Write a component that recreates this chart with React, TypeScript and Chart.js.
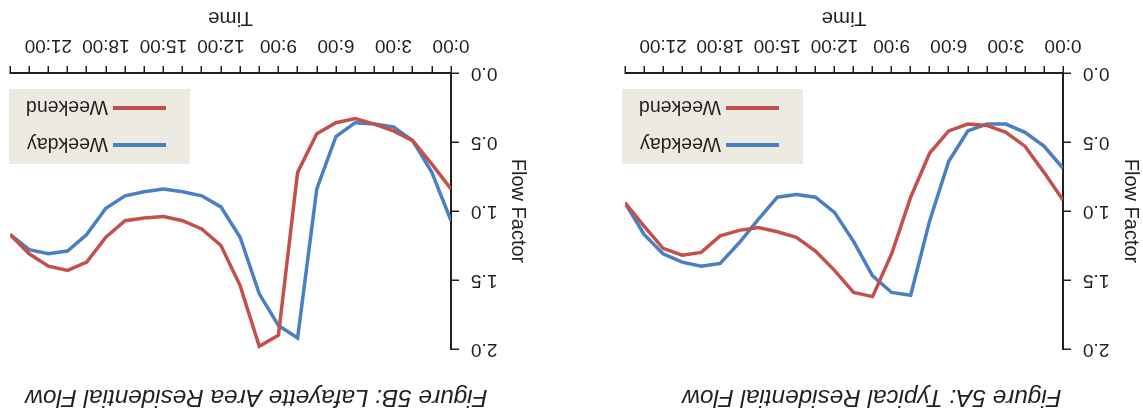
import React, { useEffect, useRef } from 'react';
import { Chart, registerables } from 'chart.js';

Chart.register(...registerables);

// Hours of the day (0:00 … 23:00)
const hours = [0, 1, 2, 3, 4, 5, 6, 7, 8, 9, 10, 11, 12, 13, 14, 15, 16, 17, 18, 19, 20, 21, 22, 23];
const timeTickLabels = ['0:00', '3:00', '6:00', '9:00', '12:00', '15:00', '18:00', '21:00'];
const flowTickLabels = ['0.0', '0.5', '1.0', '1.5', '2.0'];
const seriesNames = ['Weekday', 'Weekend'];
const titleA = 'Figure 5A: Typical Residential Flow';
const titleB = 'Figure 5B: Lafayette Area Residential Flow';

// Figure 5A: Typical Residential Flow
const weekdayA = [0.69, 0.53, 0.43, 0.37, 0.37, 0.42, 0.64, 1.07, 1.61, 1.59, 1.47, 1.22, 1.01, 0.9, 0.88, 0.9, 1.06, 1.23, 1.38, 1.4, 1.37, 1.31, 1.17, 0.94];
const weekendA = [0.92, 0.72, 0.53, 0.43, 0.38, 0.37, 0.42, 0.58, 0.9, 1.31, 1.62, 1.59, 1.43, 1.29, 1.19, 1.15, 1.12, 1.14, 1.18, 1.3, 1.32, 1.27, 1.11, 0.94];

// Figure 5B: Lafayette Area Residential Flow
const weekdayB = [1.07, 0.72, 0.49, 0.39, 0.37, 0.36, 0.46, 0.84, 1.92, 1.83, 1.6, 1.19, 0.97, 0.89, 0.86, 0.84, 0.86, 0.89, 0.98, 1.17, 1.29, 1.31, 1.28, 1.17];
const weekendB = [0.84, 0.66, 0.49, 0.42, 0.37, 0.33, 0.36, 0.44, 0.72, 1.9, 1.98, 1.54, 1.25, 1.13, 1.07, 1.04, 1.05, 1.07, 1.19, 1.37, 1.43, 1.4, 1.31, 1.17];

const BLUE = '#4a7fc1';
const RED = '#c4504c';
const INK = '#231f20';
const LEGEND_BG = '#edeae1';
const FONT = "'Liberation Sans', Arial, sans-serif";

type PanelProps = {
  title: string;
  weekday: number[];
  weekend: number[];
  left: number;
  width: number;
  padLeft: number;
  padRight: number;
  yWidth: number;
  yTitlePad: number;
};

function Panel({ title, weekday, weekend, left, width, padLeft, padRight, yWidth, yTitlePad }: PanelProps) {
  const ref = useRef<HTMLCanvasElement | null>(null);
  useEffect(() => {
    if (!ref.current) return;
    const chart = new Chart(ref.current, {
      type: 'line',
      data: {
        labels: hours,
        datasets: [
          {
            label: seriesNames[1],
            data: hours.map((h, i) => ({ x: h, y: weekend[i] })),
            borderColor: RED,
            backgroundColor: RED,
            borderWidth: 3.5,
            pointRadius: 0,
            tension: 0,
            fill: false,
          },
          {
            label: seriesNames[0],
            data: hours.map((h, i) => ({ x: h, y: weekday[i] })),
            borderColor: BLUE,
            backgroundColor: BLUE,
            borderWidth: 3.5,
            pointRadius: 0,
            tension: 0,
            fill: false,
          },
        ],
      },
      options: {
        responsive: false,
        animation: false,
        events: [],
        layout: { padding: { left: padLeft, right: padRight, top: 0, bottom: 0 } },
        plugins: {
          legend: { display: false },
          tooltip: { enabled: false },
          title: {
            display: true,
            text: title,
            color: INK,
            font: { family: FONT, size: 24.3, style: 'italic', weight: 'normal', lineHeight: 1.2 },
            padding: { top: 6, bottom: 32.8 },
          },
        },
        scales: {
          x: {
            type: 'linear',
            min: 0,
            max: 23,
            afterFit: (axis: any) => {
              axis.height = 73;
            },
            ticks: {
              stepSize: 1,
              autoSkip: false,
              maxRotation: 0,
              padding: 9,
              color: INK,
              font: { family: FONT, size: 19 },
              callback: (v: any) => (Number(v) % 3 === 0 ? timeTickLabels[Number(v) / 3] ?? '' : ''),
            },
            grid: {
              display: true,
              drawOnChartArea: false,
              drawTicks: true,
              tickLength: 7,
              color: INK,
              lineWidth: 1.5,
            },
            border: { display: true, color: INK, width: 2 },
            title: {
              display: true,
              text: 'Time',
              color: INK,
              font: { family: FONT, size: 20.5, lineHeight: 1.1 },
              padding: { top: 0, bottom: 6 },
            },
          },
          y: {
            type: 'linear',
            min: 0,
            max: 2,
            afterFit: (axis: any) => {
              axis.width = yWidth;
            },
            ticks: {
              stepSize: 0.5,
              padding: 12,
              color: INK,
              font: { family: FONT, size: 19 },
              callback: (v: any) => flowTickLabels[Math.round(Number(v) * 2)] ?? '',
            },
            grid: {
              display: true,
              drawOnChartArea: false,
              drawTicks: true,
              tickLength: 8,
              color: INK,
              lineWidth: 1.5,
            },
            border: { display: true, color: INK, width: 2 },
            title: {
              display: true,
              text: 'Flow Factor',
              color: INK,
              font: { family: FONT, size: 20, lineHeight: 1.0 },
              padding: { top: yTitlePad, bottom: 0 },
            },
          },
        },
      },
    });
    return () => chart.destroy();
  }, [title, weekday, weekend, padLeft, padRight, yWidth, yTitlePad]);

  return (
    <canvas
      ref={ref}
      width={width}
      height={417}
      style={{ position: 'absolute', left, top: 0, width, height: 417 }}
    />
  );
}

function Legend({ left, top }: { left: number; top: number }) {
  const row = (color: string, label: string, y: number) => (
    <div style={{ position: 'absolute', left: 0, top: y - 15, height: 30, width: '100%' }}>
      <div style={{ position: 'absolute', left: 24, top: 13, width: 53, height: 4, background: color }} />
      <div
        style={{
          position: 'absolute',
          left: 82,
          top: 0,
          lineHeight: '30px',
          fontFamily: FONT,
          fontSize: 19.5,
          color: INK,
          whiteSpace: 'nowrap',
        }}
      >
        {label}
      </div>
    </div>
  );
  return (
    <div style={{ position: 'absolute', left, top, width: 181, height: 75, background: LEGEND_BG }}>
      {row(BLUE, seriesNames[0], 19)}
      {row(RED, seriesNames[1], 56)}
    </div>
  );
}

export default function App() {
  return (
    <div
      style={{
        position: 'fixed',
        left: 0,
        top: 0,
        width: 1143,
        height: 417,
        overflow: 'hidden',
        background: '#ffffff',
        transform: 'rotate(180deg)',
      }}
    >
      <Panel
        title={titleA}
        weekday={weekdayA}
        weekend={weekendA}
        left={0}
        width={543}
        padLeft={24}
        padRight={25}
        yWidth={56}
        yTitlePad={-22}
      />
      <Panel
        title={titleB}
        weekday={weekdayB}
        weekend={weekendB}
        left={612}
        width={548}
        padLeft={28}
        padRight={27}
        yWidth={52}
        yTitlePad={-25}
      />
      <Legend left={340} top={253} />
      <Legend left={953} top={253} />
    </div>
  );
}
